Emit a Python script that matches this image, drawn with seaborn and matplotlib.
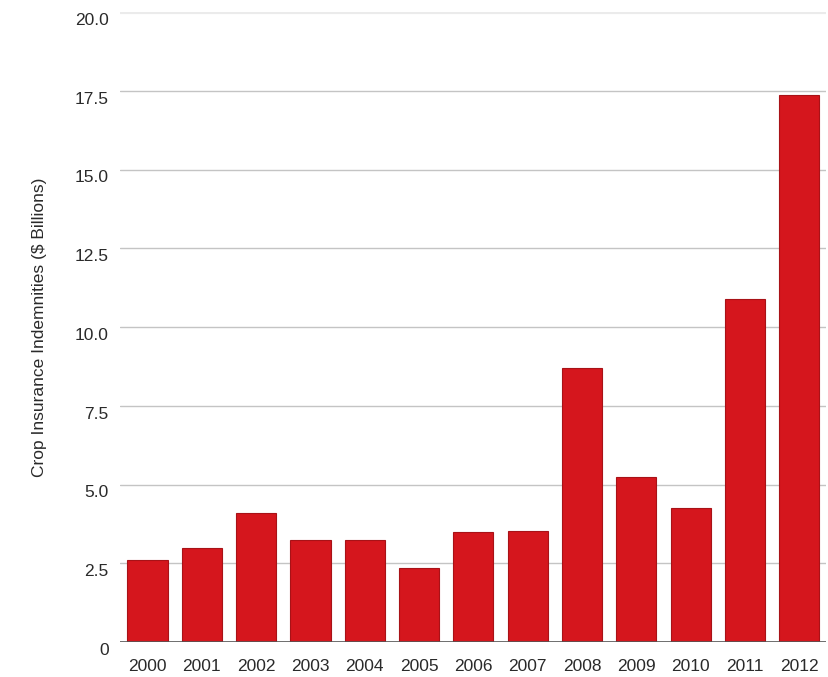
import matplotlib
matplotlib.use("Agg")
import matplotlib.pyplot as plt
import matplotlib.transforms as mtransforms
import seaborn as sns
import pandas as pd

years = ["2000", "2001", "2002", "2003", "2004", "2005", "2006",
         "2007", "2008", "2009", "2010", "2011", "2012"]
indemnities = [2.6, 2.99, 4.1, 3.24, 3.24, 2.36, 3.48, 3.53, 8.71, 5.23, 4.26, 10.89, 17.37]
ytick_values = [0, 2.5, 5.0, 7.5, 10.0, 12.5, 15.0, 17.5, 20.0]
ytick_labels = ["0", "2.5", "5.0", "7.5", "10.0", "12.5", "15.0", "17.5", "20.0"]

sns.set_theme(style="white")
plt.rcParams['font.family'] = ['Liberation Sans', 'DejaVu Sans']

df = pd.DataFrame({"year": years, "value": indemnities})

fig = plt.figure(figsize=(8.29, 6.77), dpi=100)
left, right = 120.4 / 829, 826.4 / 829
bottom, top = 1 - 642 / 677, 1 - 12 / 677
ax = fig.add_axes([left, bottom, right - left, top - bottom])

sns.barplot(data=df, x="year", y="value", color="#d5161d", width=0.74,
            edgecolor="#a81217", linewidth=0.8, saturation=1, ax=ax, zorder=3)

ax.set_ylim(0, 20)
ax.set_xlim(-0.5, 12.5)
ax.set_yticks(ytick_values)
ax.set_yticklabels(ytick_labels)
for y in ytick_values[1:]:
    ax.axhline(y, color="#c4c4c4" if y < 20 else "#ebebeb",
               linewidth=1.0 if y < 20 else 3.0, zorder=1)
ax.axhline(0, color="#555555", linewidth=1.2, zorder=4)

for s in ax.spines.values():
    s.set_visible(False)

ax.tick_params(axis="both", length=0, labelsize=12.5, labelcolor="#2a2a2a")
ax.tick_params(axis="y", pad=8.5)
ax.tick_params(axis="x", pad=12)
offset = mtransforms.ScaledTranslation(0, -5 / 72, fig.dpi_scale_trans)
for lab in ax.get_yticklabels():
    lab.set_transform(lab.get_transform() + offset)
ax.set_xlabel("")
ax.set_ylabel("Crop Insurance Indemnities ($ Billions)", fontsize=12.5,
              color="#2a2a2a", labelpad=20)

fig.savefig("out.png", dpi=100)
